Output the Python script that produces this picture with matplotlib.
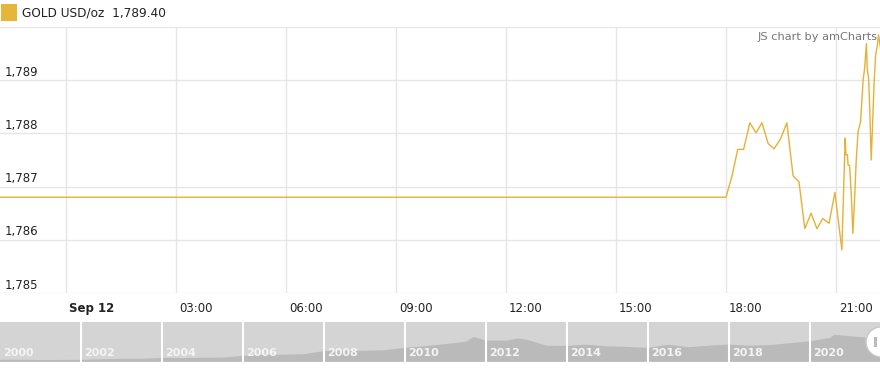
import numpy as np
import matplotlib.pyplot as plt
from matplotlib.patches import Rectangle, Circle
from matplotlib.transforms import IdentityTransform

# intraday gold price, hours after Sep 12 00:00
horas = [-2.0, 18.00, 18.16, 18.32, 18.48, 18.65, 18.82, 18.98, 19.15, 19.31, 19.49,
         19.66, 19.83, 19.99, 20.15, 20.32, 20.48, 20.64, 20.81, 20.97, 21.16,
         21.25, 21.27, 21.31, 21.33, 21.37, 21.42, 21.46, 21.51, 21.55, 21.60,
         21.67, 21.74, 21.78, 21.83, 21.85, 21.89, 21.92, 21.96, 21.99, 22.04,
         22.08, 22.13, 22.16, 22.19, 22.25]
preco = [1786.80, 1786.80, 1787.19, 1787.70, 1787.70, 1788.20, 1788.01, 1788.20, 1787.81, 1787.71, 1787.90,
         1788.20, 1787.20, 1787.09, 1786.21, 1786.50, 1786.21, 1786.40, 1786.31, 1786.89, 1785.81,
         1787.91, 1787.60, 1787.60, 1787.40, 1787.40, 1786.81, 1786.12, 1786.81, 1787.47, 1788.03,
         1788.22, 1789.00, 1789.22, 1789.69, 1789.22, 1789.03, 1788.47, 1787.50, 1788.03, 1788.97,
         1789.47, 1789.66, 1789.85, 1789.72, 1789.40]

x_ticks = [0, 3, 6, 9, 12, 15, 18, 21]
x_labels = ["Sep 12", "03:00", "06:00", "09:00", "12:00", "15:00", "18:00", "21:00"]
y_ticks = [1785, 1786, 1787, 1788, 1789]
y_labels = ["1,785", "1,786", "1,787", "1,788", "1,789"]

# navigator (long history)
anos = [2000.0, 2000.5, 2001.0, 2001.5, 2002.0, 2002.5, 2003.0, 2003.5, 2004.0, 2004.5,
        2005.0, 2005.5, 2006.0, 2006.5, 2007.0, 2007.5, 2008.0, 2008.5, 2009.0, 2009.5,
        2010.0, 2010.5, 2011.0, 2011.5, 2011.7, 2012.0, 2012.5, 2012.8, 2013.0, 2013.5,
        2014.0, 2014.5, 2015.0, 2015.5, 2016.0, 2016.5, 2017.0, 2017.5, 2018.0, 2018.5,
        2019.0, 2019.5, 2020.0, 2020.5, 2020.6, 2021.0, 2021.5, 2021.75]
hist = [288, 285, 265, 270, 280, 315, 350, 350, 410, 395,
        425, 430, 550, 630, 630, 670, 880, 900, 900, 940,
        1100, 1220, 1360, 1520, 1850, 1600, 1600, 1750, 1670, 1250,
        1240, 1320, 1200, 1170, 1100, 1320, 1150, 1250, 1330, 1250,
        1290, 1420, 1550, 1780, 2000, 1900, 1780, 1790]
anos_rotulo = [2000, 2002, 2004, 2006, 2008, 2010, 2012, 2014, 2016, 2018, 2020]

cor = "#e6b136"
W, H = 880, 369
fig = plt.figure(figsize=(W / 100, H / 100), dpi=100)

ax = fig.add_axes([0, (H - 293) / H, 1, 266 / H])
ax.plot(horas, preco, color=cor, lw=1)
ax.set_xlim(-1.8, 22.2)
ax.set_ylim(1785, 1790)
ax.set_xticks(x_ticks)
ax.set_yticks(y_ticks)
ax.grid(True, color="#e6e6e6", lw=1)
ax.tick_params(length=0, labelbottom=False, labelleft=False)
for s in ["left", "right", "bottom"]:
    ax.spines[s].set_visible(False)
ax.spines["top"].set_color("#e6e6e6")

for v, lab in zip(y_ticks, y_labels):
    ax.annotate(lab, xy=(0, v), xycoords=("axes fraction", "data"), xytext=(3.5, 1),
                textcoords="offset points", ha="left", va="bottom", fontsize=8.5, color="#222222")
for h, lab in zip(x_ticks, x_labels):
    ax.annotate(lab, xy=(h, 0), xycoords=("data", "axes fraction"), xytext=(2.0, -11),
                textcoords="offset points", ha="left", va="center", fontsize=8.5, color="#222222",
                fontweight="bold" if h == 0 else "normal")

ax.text(0.997, 0.962, "JS chart by amCharts", transform=ax.transAxes, ha="right", va="center",
        fontsize=8.2, color="#777777")

# legend
fig.patches.append(Rectangle((1, H - 21), 16, 17, transform=IdentityTransform(),
                             facecolor="#e8b53c", edgecolor="none"))
fig.text(22 / W, (H - 13) / H, "GOLD USD/oz  1,789.40", ha="left", va="center",
         fontsize=8.7, color="#222222")

# navigator
nav = fig.add_axes([0, (H - 361.7) / H, 1, 40 / H])
nav.set_facecolor("#d4d4d4")
nav.fill_between(anos, 150, hist, color="#bababa", lw=0)
nav.set_xlim(2000, 2021.73)
nav.set_ylim(150, 2900)
nav.set_xticks([])
nav.set_yticks([])
for s in nav.spines.values():
    s.set_visible(False)
for a in anos_rotulo:
    if a > 2000:
        nav.axvline(a, color="white", lw=1.5)
    nav.annotate(str(a), xy=(a, 0), xycoords=("data", "axes fraction"), xytext=(2, 6),
                 textcoords="offset points", ha="left", va="center", fontsize=8,
                 fontweight="bold", color="#f4f4f4")

fig.patches.append(Circle((881, H - 342), 15, transform=IdentityTransform(),
                          facecolor="white", edgecolor="#c8c8c8", lw=1))
fig.patches.append(Rectangle((874, H - 347), 3, 10, transform=IdentityTransform(),
                             facecolor="#bbbbbb", edgecolor="none"))

fig.savefig("out.png", dpi=100)
